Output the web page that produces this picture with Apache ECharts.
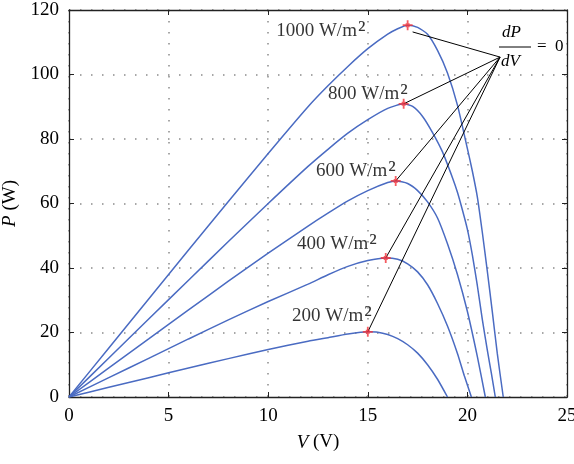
<!DOCTYPE html>
<html>
<head>
<meta charset="utf-8">
<script src="https://cdn.jsdelivr.net/npm/echarts@6/dist/echarts.min.js"></script>
<style>
  html, body { margin: 0; padding: 0; background: #fff; }
  #chart { width: 574px; height: 464px; }
</style>
</head>
<body>
<div id="chart"></div>
<script>
// P-V curves of a PV module at five irradiance levels

var irradiance = ['1000', '800', '600', '400', '200'];

var v1000 = [0, 2, 4, 6, 8, 10, 12, 13, 14, 15, 16, 16.5, 17, 17.5, 18, 18.5, 19, 19.5, 20, 20.25, 20.5, 20.75, 21, 21.25, 21.5, 21.8];
var p1000 = [0, 15.2, 30.4, 45.6, 60.6, 75.5, 90, 96.5, 102.5, 108, 112.5, 114.2, 115.3, 114.6, 112.5, 107.5, 100.5, 90.5, 77, 70, 62, 51, 39, 26.5, 13.5, 0];

var v800 = [0, 2, 4, 6, 8, 10, 12, 13, 14, 15, 16, 16.8, 17.25, 17.75, 18.25, 18.75, 19.25, 19.5, 19.75, 20, 20.25, 20.5, 20.75, 21, 21.2, 21.4];
var p800 = [0, 12.1, 24.2, 36.2, 48.2, 60, 71.5, 76.8, 81.8, 86, 89.5, 90.9, 90.1, 87, 82, 76, 68, 63.5, 58, 52, 44, 34.5, 24, 14.5, 7.5, 0];

var v600 = [0, 2, 4, 6, 8, 10, 12, 13, 14, 15, 16, 16.4, 17, 17.5, 18, 18.5, 19, 19.5, 20, 20.5, 20.9];
var p600 = [0, 9, 18, 27, 35.9, 44.6, 53, 57, 60.8, 64, 66.5, 67, 66.2, 64, 60.5, 55.5, 47.5, 38, 26.5, 12.5, 0];

var v400 = [0, 2, 4, 6, 8, 10, 12, 13, 14, 15, 15.9, 16.5, 17, 17.5, 18, 18.5, 19, 19.5, 19.85, 20.2];
var p400 = [0, 6, 12, 18, 23.9, 29.6, 35, 37.9, 40.5, 42.3, 43.1, 42.7, 41.3, 38.8, 34.8, 29, 22, 13.5, 6.5, 0];

var v200 = [0, 2, 4, 6, 8, 10, 12, 13, 14, 15, 15.5, 16, 16.5, 17, 17.5, 18, 18.5, 19];
var p200 = [0, 3, 6, 9, 11.9, 14.7, 17.3, 18.4, 19.5, 20.2, 20.1, 19.4, 18.1, 16.2, 13.6, 10, 5.5, 0];

// maximum power points (dP/dV = 0)
var peakV = [17.0, 16.8, 16.4, 15.9, 15.0];
var peakP = [115.3, 90.9, 67.0, 43.1, 20.2];

var xTicks = [0, 5, 10, 15, 20, 25];
var yTicks = [0, 20, 40, 60, 80, 100, 120];

// ------------------------------------------------------------
// layout helpers (annotation anchors in data units)
// ------------------------------------------------------------
var labelAnchors = [[10.4, 113.4], [13.0, 93.8], [12.4, 70.0], [11.45, 47.4], [11.2, 25.0]];
var leaderHub = [21.64, 105.4];
var leaderEnds = [[17.25, 113.2], [16.8, 90.9], [16.4, 67.0], [15.9, 43.1], [15.0, 20.2]];

var curveColor = '#4a6bc2';
var serif = '"Liberation Serif", "DejaVu Serif", serif';

function zip(xs, ys) {
  return xs.map(function (x, i) { return [x, ys[i]]; });
}

var curves = [[v1000, p1000], [v800, p800], [v600, p600], [v400, p400], [v200, p200]];

var series = curves.map(function (c, i) {
  return {
    name: irradiance[i] + ' W/m2',
    type: 'line',
    data: zip(c[0], c[1]),
    showSymbol: false,
    smooth: 0.2,
    lineStyle: { color: curveColor, width: 1.5 },
    z: 3
  };
});

series.push({
  type: 'lines',
  coordinateSystem: 'cartesian2d',
  polyline: false,
  silent: true,
  lineStyle: { color: '#000', width: 1, opacity: 1 },
  data: leaderEnds.map(function (e) { return { coords: [leaderHub, e] }; }),
  z: 4
});

series.push({
  type: 'scatter',
  data: zip(peakV, peakP),
  symbol: 'path://M4.1,0H5.9V10H4.1Z M0,4.1H10V5.9H0Z M3,3H7V7H3Z',
  symbolSize: 10,
  itemStyle: { color: '#f2323a' },
  z: 5
});

series.push({
  type: 'scatter',
  symbolSize: 0,
  silent: true,
  data: labelAnchors.map(function (a, i) {
    return { value: a, label: { formatter: '{t|' + irradiance[i] + ' W/m}{s|\u00b2}' } };
  }),
  label: {
    show: true,
    position: [0, 0],
    align: 'left',
    verticalAlign: 'middle',
    rich: {
      t: { fontFamily: serif, fontSize: 19, color: '#000', lineHeight: 20 },
      s: { fontFamily: serif, fontSize: 25, color: '#000', lineHeight: 20, padding: [0, 0, 0, 1] }
    }
  },
  z: 6
});

var axisLabelStyle = { fontFamily: serif, fontSize: 19, color: '#000' };
var dotted = { show: true, lineStyle: { color: '#8a8a8a', width: 1.5, type: [1.5, 9.5] } };
var nameStyle = {
  fontFamily: serif, fontSize: 19, color: '#000',
  rich: { i: { fontFamily: serif, fontSize: 19, fontStyle: 'italic', color: '#000' } }
};

var chart = echarts.init(document.getElementById('chart'), null, { renderer: 'canvas' });

chart.setOption({
  animation: false,
  backgroundColor: '#fff',
  grid: { left: 69, right: 7, top: 10, bottom: 67, containLabel: false, outerBoundsMode: 'none' },
  xAxis: [{
    type: 'value',
    min: xTicks[0],
    max: xTicks[xTicks.length - 1],
    interval: 5,
    position: 'bottom',
    name: '{i|V} (V)',
    nameLocation: 'middle',
    nameGap: 36,
    nameTextStyle: nameStyle,
    axisLine: { onZero: false, lineStyle: { color: '#222', width: 1.3 } },
    axisTick: { inside: true, length: 5, lineStyle: { color: '#222' } },
    axisLabel: Object.assign({ margin: 10 }, axisLabelStyle),
    splitLine: dotted
  }, {
    type: 'value',
    min: xTicks[0],
    max: xTicks[xTicks.length - 1],
    interval: 5,
    position: 'top',
    axisLine: { onZero: false, lineStyle: { color: '#222', width: 1.3 } },
    axisTick: { inside: true, length: 5, lineStyle: { color: '#222' } },
    axisLabel: { show: false },
    splitLine: { show: false }
  }],
  yAxis: [{
    type: 'value',
    min: yTicks[0],
    max: yTicks[yTicks.length - 1],
    interval: 20,
    position: 'left',
    name: '{i|P} (W)',
    nameLocation: 'middle',
    nameGap: 40,
    nameRotate: 90,
    nameTextStyle: nameStyle,
    axisLine: { onZero: false, lineStyle: { color: '#222', width: 1.3 } },
    axisTick: { inside: true, length: 5, lineStyle: { color: '#222' } },
    axisLabel: Object.assign({ margin: 10 }, axisLabelStyle),
    splitLine: dotted
  }, {
    type: 'value',
    min: yTicks[0],
    max: yTicks[yTicks.length - 1],
    interval: 20,
    position: 'right',
    axisLine: { onZero: false, lineStyle: { color: '#222', width: 1.3 } },
    axisTick: { inside: true, length: 5, lineStyle: { color: '#222' } },
    axisLabel: { show: false },
    splitLine: { show: false }
  }],
  graphic: [
    { type: 'text', left: 502, top: 24, style: { text: 'dP', font: 'italic 17px ' + serif, fill: '#000' } },
    { type: 'line', shape: { x1: 499, y1: 47, x2: 531, y2: 47 }, style: { stroke: '#000', lineWidth: 1 } },
    { type: 'text', left: 501, top: 53, style: { text: 'dV', font: 'italic 17px ' + serif, fill: '#000' } },
    { type: 'text', left: 537, top: 38, style: { text: '=  0', font: '17px ' + serif, fill: '#000' } }
  ],
  series: series
});
</script>
</body>
</html>
